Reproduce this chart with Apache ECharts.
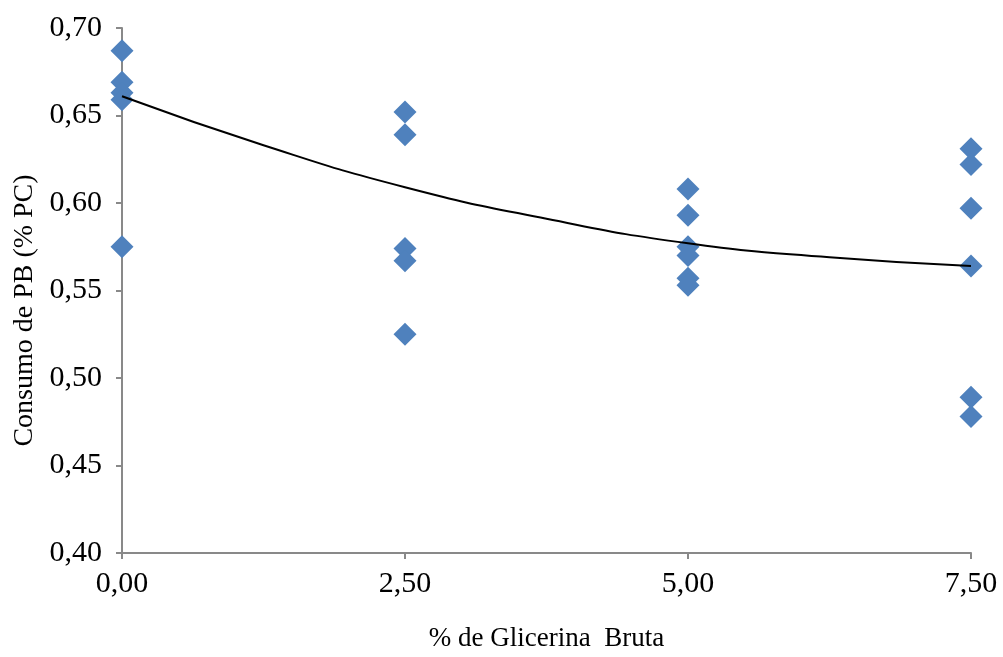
<!DOCTYPE html>
<html>
<head>
<meta charset="utf-8">
<script src="https://cdn.jsdelivr.net/npm/echarts@6/dist/echarts.min.js"></script>
<style>
  html, body { margin: 0; padding: 0; background: #fff; }
  #chart { width: 1003px; height: 657px; }
</style>
</head>
<body>
<div id="chart"></div>
<script>
// Observed intake per glycerin level (x = % crude glycerin, y = CP intake % BW)
const level0 = [0.687, 0.669, 0.663, 0.659, 0.575];
const level25 = [0.652, 0.639, 0.574, 0.567, 0.525];
const level5 = [0.608, 0.593, 0.575, 0.570, 0.557, 0.553];
const level75 = [0.631, 0.622, 0.597, 0.564, 0.489, 0.478];
const levels = [0, 2.5, 5, 7.5];

// Fitted trend curve, sampled along x
const trendX = [0, 1.25, 2.5, 3.75, 5, 6.25, 7.5];
const trendY = [0.661, 0.633, 0.609, 0.591, 0.577, 0.569, 0.564];

const xTicks = [0, 2.5, 5, 7.5];

const points = [];
[level0, level25, level5, level75].forEach((vals, i) => {
  vals.forEach(v => points.push([levels[i], v]));
});
const trend = trendX.map((x, i) => [x, trendY[i]]);

const font = '"Liberation Serif", "Times New Roman", serif';
const axisGray = '#898989';

const chart = echarts.init(document.getElementById('chart'), null, { renderer: 'canvas' });
chart.setOption({
  backgroundColor: '#ffffff',
  animation: false,
  grid: { left: 122, right: 32, top: 28, bottom: 104 },
  xAxis: {
    type: 'value',
    min: 0, max: 7.5, interval: 2.5,
    name: '% de Glicerina  Bruta',
    nameLocation: 'middle',
    nameGap: 72,
    nameTextStyle: { fontFamily: font, fontSize: 27, color: '#000' },
    axisLine: { lineStyle: { color: axisGray, width: 2 } },
    axisTick: { show: true, length: 6, lineStyle: { color: axisGray, width: 2 } },
    axisLabel: {
      margin: 16, fontFamily: font, fontSize: 30, color: '#000',
      formatter: v => xTicks.includes(v) ? v.toFixed(2).replace('.', ',') : ''
    },
    splitLine: { show: false }
  },
  yAxis: {
    type: 'value',
    min: 0.40, max: 0.70, interval: 0.05,
    name: 'Consumo de PB (% PC)',
    nameLocation: 'middle',
    nameGap: 82,
    nameTextStyle: { fontFamily: font, fontSize: 28, color: '#000', padding: [0, 40, 0, 0] },
    axisLine: { show: true, lineStyle: { color: axisGray, width: 2 } },
    axisTick: { show: true, length: 6, lineStyle: { color: axisGray, width: 2 } },
    axisLabel: {
      margin: 20, fontFamily: font, fontSize: 30, color: '#000',
      formatter: v => v.toFixed(2).replace('.', ',')
    },
    splitLine: { show: false }
  },
  series: [
    {
      type: 'scatter',
      data: points,
      symbol: 'diamond',
      symbolSize: [23, 23],
      itemStyle: { color: '#4F81BD', opacity: 1 },
      z: 2
    },
    {
      type: 'line',
      data: trend,
      smooth: true,
      showSymbol: false,
      lineStyle: { color: '#000', width: 2 },
      z: 3
    }
  ]
});
</script>
</body>
</html>
